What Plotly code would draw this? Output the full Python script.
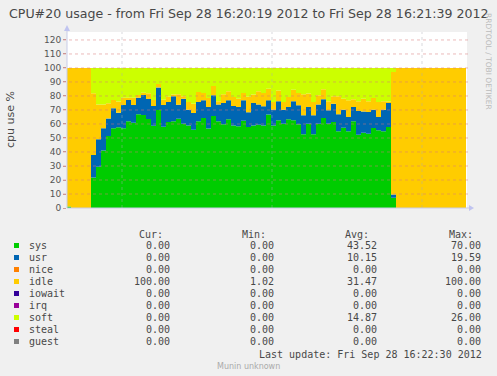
import plotly.graph_objects as go

# ---------------- data ----------------
series_names = ["sys", "usr", "nice", "idle", "iowait", "irq", "soft", "steal", "guest"]
series_colors = ["#00CC00", "#0066B3", "#FF8000", "#FFCC00", "#330099",
                 "#990099", "#CCFF00", "#FF0000", "#808080"]

sys_vals = [1.0, 0, 0, 0, 0,
            21.7, 29.5, 41.0, 51.4, 56.9, 57.6, 57.0, 62.0, 60.9, 66.9,
            66.4, 63.6, 58.8, 70.0, 58.1, 61.4, 61.9, 63.8, 60.2, 59.0,
            55.9, 61.9, 64.3, 56.7, 65.7, 61.9, 59.8, 63.3, 59.0, 58.3,
            62.4, 57.9, 59.0, 59.5, 59.0, 66.7, 59.0, 62.6, 60.2, 63.3,
            62.6, 59.8, 52.6, 60.2, 52.6, 60.2, 64.3, 60.2, 61.4, 54.8,
            57.4, 54.8, 61.9, 52.4, 53.8, 53.1, 57.1, 55.5, 54.8, 57.9,
            7.4,
            0, 0, 0, 0, 0, 0, 0, 0, 0, 0, 0, 0, 0, 0]
usr_vals = [0, 0, 0, 0, 0,
            16.2, 19.6, 15.9, 12.6, 14.3, 10.5, 16.6, 15.1, 12.7, 11.9,
            14.3, 14.3, 14.1, 16.0, 15.5, 14.3, 17.9, 10.0, 17.9, 11.2,
            12.0, 13.8, 12.6, 15.4, 14.8, 12.1, 15.2, 13.6, 13.9, 13.8,
            14.5, 10.5, 16.0, 14.5, 13.6, 10.2, 11.2, 13.6, 10.0, 8.8,
            13.6, 13.5, 13.6, 11.9, 13.6, 13.8, 13.3, 9.6, 13.1, 12.1,
            12.8, 10.2, 10.2, 16.9, 15.2, 15.5, 13.1, 9.5, 15.4, 17.1,
            2.3,
            0, 0, 0, 0, 0, 0, 0, 0, 0, 0, 0, 0, 0, 0]
idle_vals = [99.0, 100, 100, 100, 100,
             44.0, 24.9, 17.1, 10.8, 5.9, 7.9, 5.2, 1.7, 5.2, 1.9,
             1.7, 4.0, 4.2, 2.5, 3.8, 3.8, 1.2, 7.4, 1.7, 5.5,
             6.6, 7.2, 5.2, 6.5, 6.6, 2.2, 6.2, 6.4, 6.4, 6.0,
             5.2, 11.1, 6.0, 9.3, 9.5, 8.3, 5.5, 7.8, 5.5, 7.2,
             8.3, 8.8, 15.0, 9.6, 9.5, 6.5, 7.2, 6.4, 5.3, 12.9,
             7.9, 11.9, 5.5, 6.9, 9.1, 7.6, 8.4, 10.7, 6.0, 1.0,
             87.4,
             100, 100, 100, 100, 100, 100, 100, 100, 100, 100, 100, 100, 100, 100]
soft_vals = [0, 0, 0, 0, 0,
             18.1, 26.0, 26.0, 25.2, 22.9, 24.0, 21.2, 21.2, 21.2, 19.3,
             17.6, 18.1, 22.9, 11.5, 22.6, 20.5, 19.0, 18.8, 20.2, 24.3,
             25.5, 17.1, 17.9, 21.4, 12.9, 23.8, 18.8, 16.7, 20.7, 21.9,
             17.9, 20.5, 19.0, 16.7, 17.9, 14.8, 24.3, 16.0, 24.3, 20.7,
             15.5, 17.9, 18.8, 18.3, 24.3, 19.5, 15.2, 23.8, 20.2, 20.2,
             21.9, 23.1, 22.4, 23.8, 21.9, 23.8, 21.4, 24.3, 23.8, 24.0,
             2.9,
             0, 0, 0, 0, 0, 0, 0, 0, 0, 0, 0, 0, 0, 0]
zero_vals = [0] * 80
series_values = [sys_vals, usr_vals, zero_vals, idle_vals, zero_vals,
                 zero_vals, soft_vals, zero_vals, zero_vals]

stat_cur = ["0.00", "0.00", "0.00", "100.00", "0.00", "0.00", "0.00", "0.00", "0.00"]
stat_min = ["0.00", "0.00", "0.00", "1.02", "0.00", "0.00", "0.00", "0.00", "0.00"]
stat_avg = ["43.52", "10.15", "0.00", "31.47", "0.00", "0.00", "14.87", "0.00", "0.00"]
stat_max = ["70.00", "19.59", "0.00", "100.00", "0.00", "0.00", "26.00", "0.00", "0.00"]

y_ticks = list(range(0, 121, 10))
x_grid_seconds = [11, 41, 71]   # 16:20:30, 16:21:00, 16:21:30 (seconds after 16:20:19)
title_text = "CPU#20 usage - from Fri Sep 28 16:20:19 2012 to Fri Sep 28 16:21:39 2012"
y_title = "cpu use %"
last_update = "Last update: Fri Sep 28 16:22:30 2012"

# ---------------- geometry ----------------
W, H = 497, 376
L, R, T, B = 67, 467, 32, 208
Y_MAX = 125.7


def px(x):
    return (x - L) / (R - L)


def py(y):
    return (B - y) / (B - T)


# sample k covers seconds [k-0.2, k+0.8]
t = [k - 0.2 for k in range(80)] + [79.8]

fig = go.Figure()
for name, col, vals in zip(series_names, series_colors, series_values):
    fig.add_trace(go.Scatter(
        x=t, y=vals + [vals[-1]], name=name, mode="lines",
        line=dict(shape="hv", width=0, color=col),
        fillcolor=col, stackgroup="one", hoverinfo="skip", showlegend=False))

shapes = []
# horizontal grid (drawn above data, like rrdtool)
for v in y_ticks[1:]:
    shapes.append(dict(type="line", xref="paper", yref="y", x0=-0.01, x1=1.003, y0=v, y1=v,
                       line=dict(color="rgba(215,120,120,0.5)", width=1, dash="dot"),
                       layer="above"))
for s in x_grid_seconds:
    shapes.append(dict(type="line", xref="x", yref="paper", x0=s, x1=s, y0=0, y1=1,
                       line=dict(color="rgba(170,170,180,0.45)", width=1, dash="dot"),
                       layer="above"))
# axis lines and arrows
axc = "#C8CCE8"
shapes.append(dict(type="line", xref="paper", yref="paper", x0=0, x1=0, y0=0, y1=py(27),
                   line=dict(color=axc, width=1), layer="above"))
shapes.append(dict(type="line", xref="paper", yref="paper", x0=0, x1=px(470), y0=0, y1=0,
                   line=dict(color=axc, width=1), layer="above"))
shapes.append(dict(type="path", xref="paper", yref="paper",
                   path=f"M {px(64)} {py(31)} L {px(70)} {py(31)} L {px(67)} {py(25)} Z",
                   fillcolor="#C0C4F0", line=dict(width=0), layer="above"))
shapes.append(dict(type="path", xref="paper", yref="paper",
                   path=f"M {px(469)} {py(205)} L {px(469)} {py(211)} L {px(474)} {py(208)} Z",
                   fillcolor="#C0C4F0", line=dict(width=0), layer="above"))

ann = []
txt = "#484848"
ann.append(dict(text=title_text, x=px(7), y=py(13), xref="paper", yref="paper",
                xanchor="left", yanchor="middle", showarrow=False,
                font=dict(family="DejaVu Sans", size=12.6, color=txt)))
ann.append(dict(text=y_title, x=px(10), y=py(120), xref="paper", yref="paper",
                xanchor="center", yanchor="middle", showarrow=False, textangle=-90,
                font=dict(family="DejaVu Sans", size=11, color=txt)))
ann.append(dict(text="RRDTOOL / TOBI OETIKER", x=px(489), y=py(61), xref="paper", yref="paper",
                xanchor="center", yanchor="middle", showarrow=False, textangle=90,
                font=dict(family="DejaVu Sans", size=7.5, color="#BBBBBB")))

mono = dict(family="DejaVu Sans Mono", size=10, color=txt)
col_left = [137, 240, 343, 447]
col_right = [172, 276, 379, 483]
headers = ["Cur:", "Min:", "Avg:", "Max:"]
for hx, h in zip(col_left, headers):
    ann.append(dict(text=h, x=px(hx), y=py(234), xref="paper", yref="paper",
                    xanchor="left", yanchor="middle", showarrow=False, font=mono))
for i, name in enumerate(series_names):
    yc = 245.5 + 12 * i
    shapes.append(dict(type="rect", xref="paper", yref="paper",
                       x0=px(14), x1=px(19), y0=py(yc - 2.5), y1=py(yc + 2.5),
                       fillcolor=series_colors[i], line=dict(width=0)))
    ann.append(dict(text=name, x=px(27), y=py(yc), xref="paper", yref="paper",
                    xanchor="left", yanchor="middle", showarrow=False, font=mono))
    for rx, col in zip(col_right, [stat_cur, stat_min, stat_avg, stat_max]):
        ann.append(dict(text=col[i], x=px(rx), y=py(yc), xref="paper", yref="paper",
                        xanchor="right", yanchor="middle", showarrow=False, font=mono))
ann.append(dict(text=last_update, x=px(483.5), y=py(354), xref="paper", yref="paper",
                xanchor="right", yanchor="middle", showarrow=False, font=mono))
ann.append(dict(text="Munin unknown", x=px(248), y=py(366.5), xref="paper", yref="paper",
                xanchor="center", yanchor="middle", showarrow=False,
                font=dict(family="DejaVu Sans", size=8, color="#AAAAAA")))

fig.update_layout(
    width=W, height=H,
    margin=dict(l=L, r=W - R, t=T, b=H - B, pad=0),
    paper_bgcolor="#F0F0F0", plot_bgcolor="white",
    showlegend=False,
    xaxis=dict(range=[0, 80], showticklabels=False, showgrid=False, zeroline=False,
               showline=False, ticks="", fixedrange=True),
    yaxis=dict(range=[0, Y_MAX], tickvals=y_ticks, ticks="outside", ticklen=3,
               tickcolor="#C8A0A0", showgrid=False, zeroline=False, showline=False,
               tickfont=dict(family="DejaVu Sans", size=9, color="#555555"),
               fixedrange=True),
    shapes=shapes, annotations=ann,
)

fig.write_html("out.html")
